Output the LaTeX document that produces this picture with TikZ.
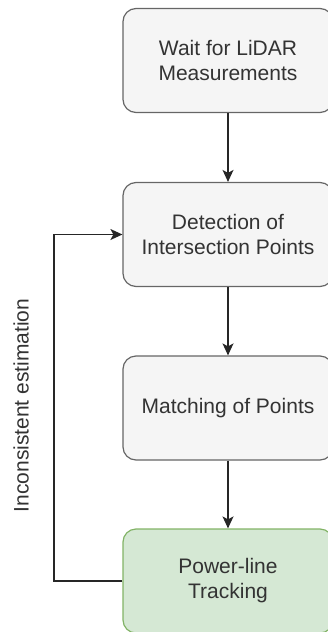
\documentclass[tikz,border=0pt]{standalone}
\usepackage{fontspec}
\setmainfont{Liberation Sans}
\usetikzlibrary{arrows.meta}
\definecolor{boxfill}{HTML}{F5F5F5}
\definecolor{boxline}{HTML}{666666}
\definecolor{greenfill}{HTML}{D5E8D4}
\definecolor{greenline}{HTML}{82B366}
\definecolor{textgray}{HTML}{333333}
\begin{document}
\begin{tikzpicture}[x=1pt,y=-1pt,
  stepbox/.style={draw=boxline, fill=boxfill, line width=1.2pt, rounded corners=13pt,
    minimum width=210pt, minimum height=104pt, align=center, text=textgray,
    font=\fontsize{21}{25}\selectfont, inner sep=0pt},
  trackbox/.style={stepbox, draw=greenline, fill=greenfill},
  flow/.style={draw=black!85, line width=1.3pt, -{Stealth[length=12pt,width=11pt,inset=3pt]}}]
\useasboundingbox (0,0) rectangle (328,632);
\clip (0,0) rectangle (328,632);
\node[stepbox] (wait) at (228,60.5) {Wait for LiDAR\\Measurements};
\node[stepbox] (detect) at (228,234.5) {Detection of\\Intersection Points};
\node[stepbox] (match) at (228,408) {Matching of Points};
\node[trackbox] (track) at (228,581) {Power-line\\Tracking};
\draw[flow] (wait) -- (detect);
\draw[flow] (detect) -- (match);
\draw[flow] (match) -- (track);
\coordinate (lowcorner) at (54,581);
\coordinate (upcorner) at (54,234.5);
\draw[flow] (track.west) -- (lowcorner) -- (upcorner) -- (detect.west);
\node[rotate=90, text=textgray, font=\fontsize{21}{25}\selectfont] (label) at (21,405.5) {Inconsistent estimation};
\end{tikzpicture}
\end{document}
